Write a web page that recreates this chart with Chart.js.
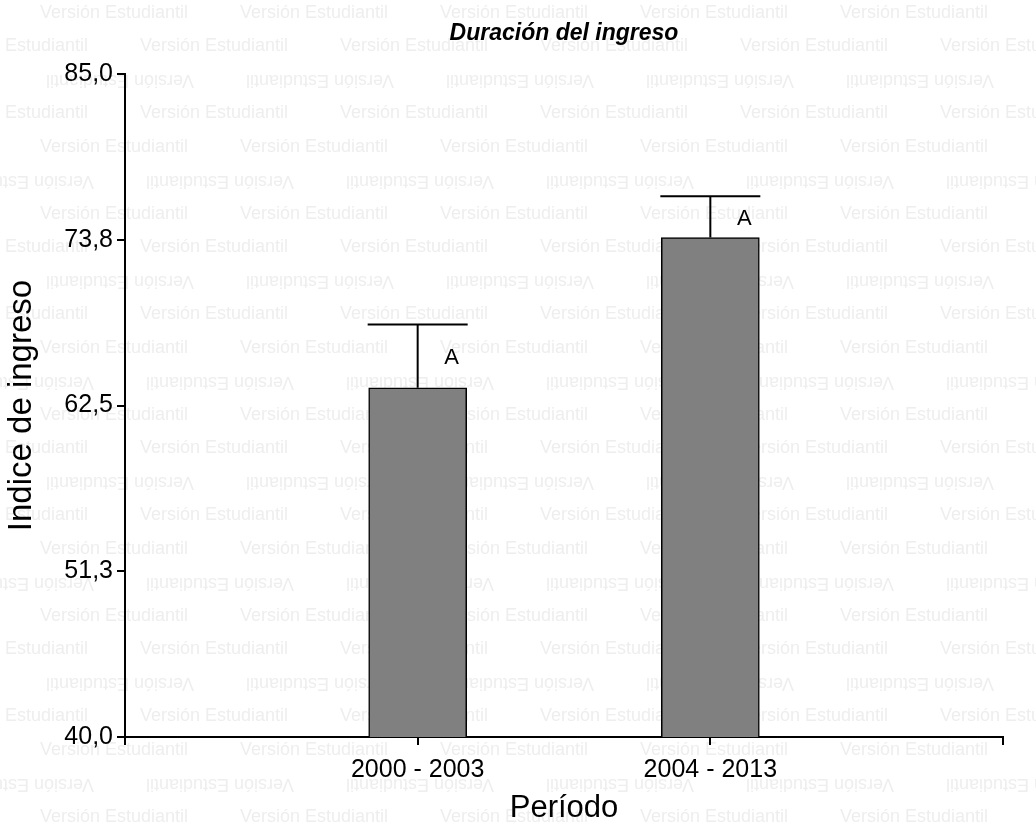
<!DOCTYPE html>
<html>
<head>
<meta charset="utf-8">
<script src="https://cdn.jsdelivr.net/npm/chart.js@4.4.1/dist/chart.umd.min.js"></script>
<style>
  html, body { margin: 0; padding: 0; background: #fff; }
  #wrap { width: 1036px; height: 837px; }
</style>
</head>
<body>
<div id="wrap"><canvas id="c" width="1036" height="837"></canvas></div>
<script>
// Period categories (empty slots at both ends pad the axis)
const periods = ['', '2000 - 2003', '2004 - 2013', ''];
// Mean income index per period
const meanValues = [null, 63.7, 73.9, null];
// Upper end of the error bar per period
const errorTops = [null, 68.0, 76.7, null];
// Significance letters per period
const groupLetters = [null, 'A', 'A', null];
// Y axis ticks and their labels
const yTicks = [40, 51.25, 62.5, 73.75, 85];
const yTickLabels = ['40,0', '51,3', '62,5', '73,8', '85,0'];

const FONT = "'Liberation Sans', Arial, sans-serif";

// Faint repeated background stamp
const stampPlugin = {
  id: 'stamp',
  beforeDraw(chart) {
    const ctx = chart.ctx;
    ctx.save();
    ctx.fillStyle = '#ffffff';
    ctx.fillRect(0, 0, chart.width, chart.height);
    ctx.font = '18px ' + FONT;
    ctx.fillStyle = '#eeeeee';
    ctx.textBaseline = 'middle';
    const text = 'Versión Estudiantil';
    for (let r = 0; r < 26; r++) {
      const y = 13 + r * 33.5;
      const shift = (r % 2) ? -100 : 0;
      const flip = (r % 3) === 2;
      for (let x = -160 + shift; x < chart.width + 200; x += 200) {
        if (flip) {
          ctx.save();
          ctx.translate(x + 80, y);
          ctx.rotate(Math.PI);
          ctx.textAlign = 'center';
          ctx.fillText(text, 0, 0);
          ctx.restore();
        } else {
          ctx.textAlign = 'left';
          ctx.fillText(text, x, y);
        }
      }
    }
    ctx.restore();
  }
};

// Upper error bars with caps and group letters
const errorBarPlugin = {
  id: 'errorBars',
  afterDatasetsDraw(chart) {
    const ctx = chart.ctx;
    const xs = chart.scales.x, ys = chart.scales.y;
    const meta = chart.getDatasetMeta(0);
    ctx.save();
    ctx.strokeStyle = '#000';
    ctx.lineWidth = 2;
    ctx.fillStyle = '#000';
    ctx.font = '22px ' + FONT;
    ctx.textAlign = 'center';
    ctx.textBaseline = 'middle';
    meanValues.forEach((v, i) => {
      if (v === null) return;
      const bar = meta.data[i];
      const half = bar.width / 2 + 1;
      const x = xs.getPixelForValue(i);
      const yBar = ys.getPixelForValue(v);
      const yTop = ys.getPixelForValue(errorTops[i]);
      ctx.beginPath();
      ctx.moveTo(x, yBar);
      ctx.lineTo(x, yTop);
      ctx.moveTo(x - half, yTop);
      ctx.lineTo(x + half, yTop);
      ctx.stroke();
      if (groupLetters[i]) {
        ctx.fillText(groupLetters[i], x + 34, (yBar + yTop) / 2 + 2);
      }
    });
    ctx.restore();
  }
};

new Chart(document.getElementById('c'), {
  type: 'bar',
  data: {
    labels: periods,
    datasets: [{
      data: meanValues,
      backgroundColor: '#808080',
      borderColor: '#000',
      borderWidth: 1.5,
      barThickness: 98
    }]
  },
  plugins: [stampPlugin, errorBarPlugin],
  options: {
    responsive: false,
    animation: false,
    devicePixelRatio: 1,
    layout: { padding: { left: 0, right: 33, top: 0, bottom: 0 } },
    plugins: {
      legend: { display: false },
      tooltip: { enabled: false },
      title: {
        display: true,
        text: 'Duración del ingreso',
        fullSize: false,
        color: '#000',
        font: { family: FONT, size: 23, weight: 'bold', style: 'italic', lineHeight: 1.2 },
        padding: { top: 19.5, bottom: 26.9 }
      }
    },
    scales: {
      x: {
        type: 'category',
        offset: false,
        afterFit(s) { s.height = 100; },
        grid: {
          offset: false,
          drawOnChartArea: false,
          drawTicks: true,
          tickLength: 8,
          color: '#000',
          lineWidth: 2
        },
        border: { display: true, color: '#000', width: 2 },
        ticks: {
          autoSkip: false,
          maxRotation: 0,
          color: '#000',
          padding: 10,
          font: { family: FONT, size: 25 }
        },
        title: {
          display: true,
          text: 'Período',
          color: '#000',
          font: { family: FONT, size: 31, lineHeight: 1.2 },
          padding: { top: 0, bottom: 10 }
        }
      },
      y: {
        min: 40,
        max: 85,
        afterFit(s) { s.width = 125; },
        afterBuildTicks(s) { s.ticks = yTicks.map(v => ({ value: v })); },
        grid: {
          drawOnChartArea: false,
          drawTicks: true,
          tickLength: 8,
          color: '#000',
          lineWidth: 2
        },
        border: { display: true, color: '#000', width: 2 },
        ticks: {
          color: '#000',
          padding: 4,
          font: { family: FONT, size: 25 },
          callback(value, index) { return yTickLabels[index]; }
        },
        title: {
          display: true,
          text: 'Indice de ingreso',
          color: '#000',
          font: { family: FONT, size: 33, lineHeight: 1.2 },
          padding: { top: 2, bottom: 0 }
        }
      }
    }
  }
});
</script>
</body>
</html>
